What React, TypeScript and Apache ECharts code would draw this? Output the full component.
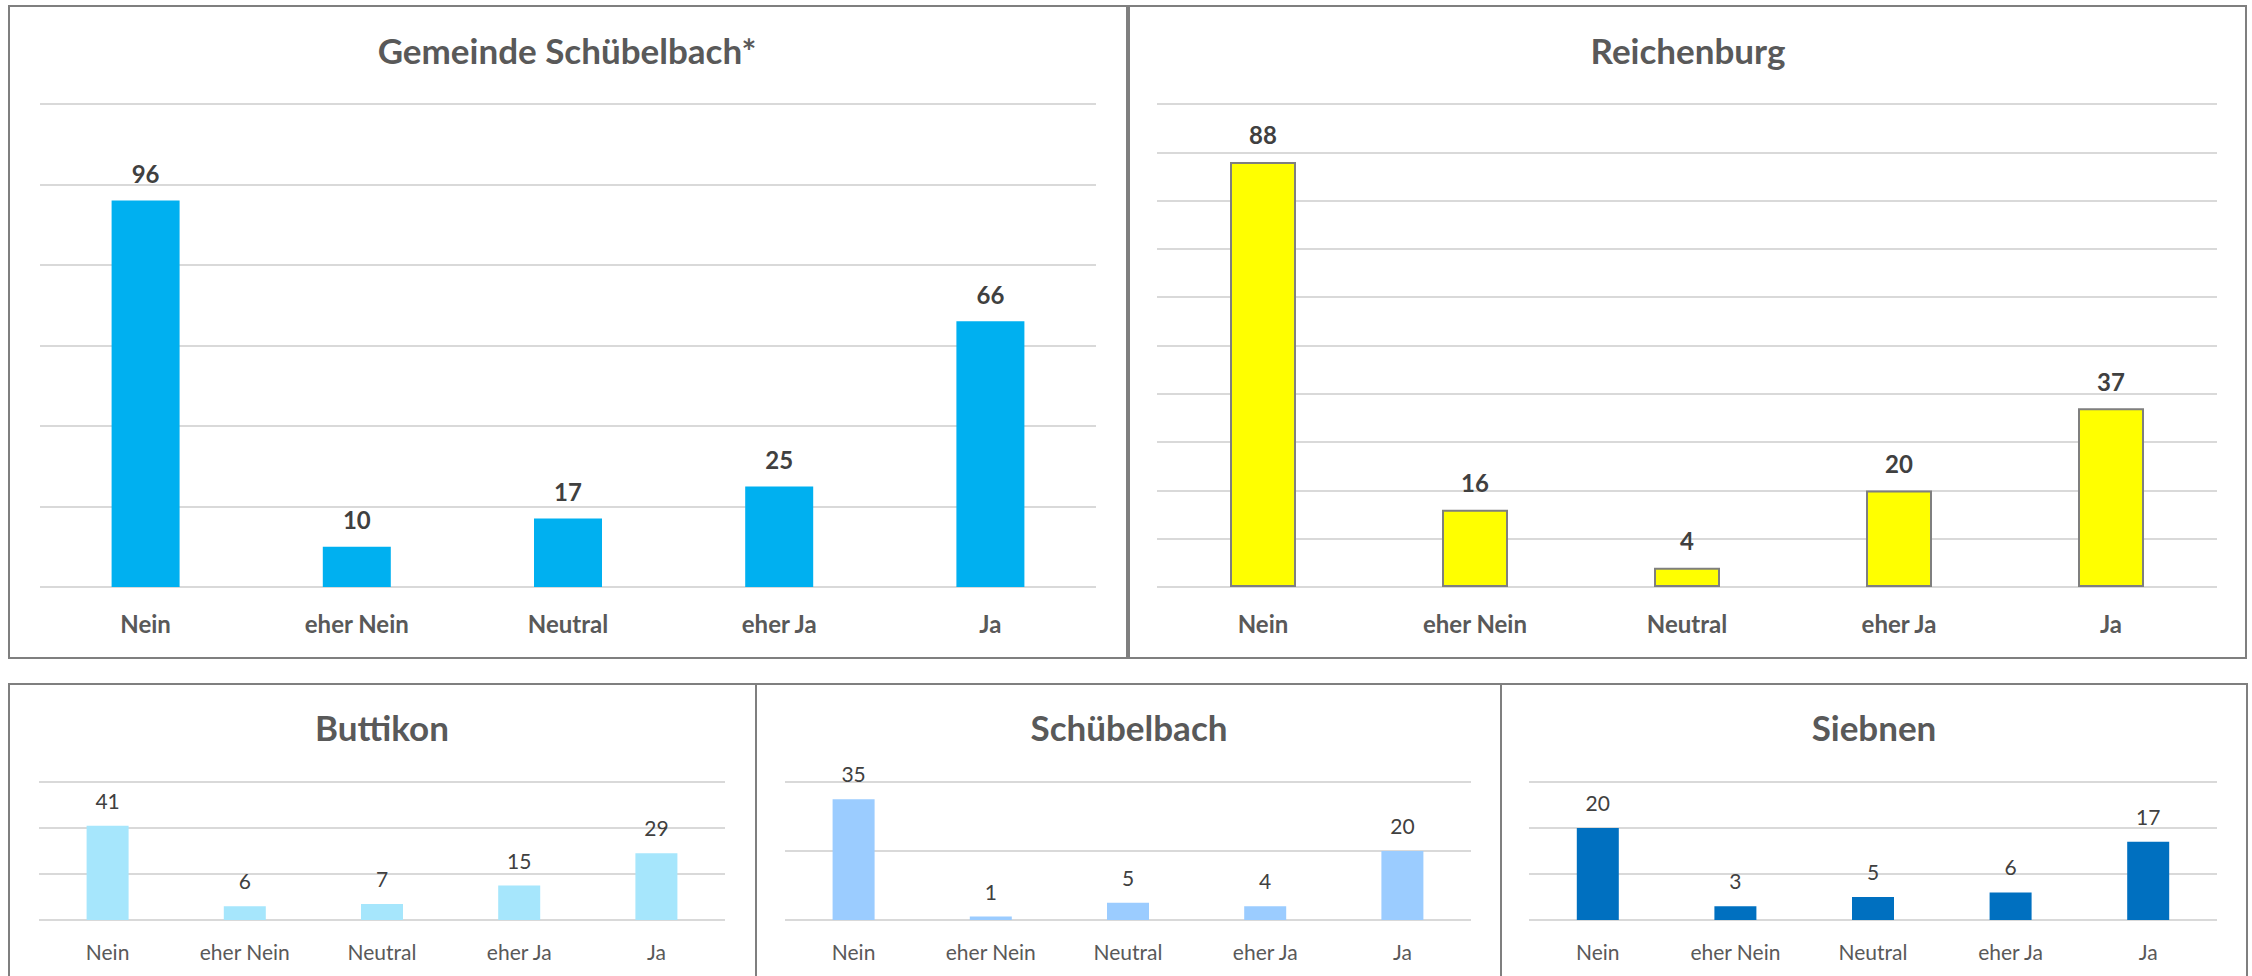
import React, { useEffect, useRef } from "react";
import * as echarts from "echarts";

const categories = ["Nein", "eher Nein", "Neutral", "eher Ja", "Ja"];
const gemeindeValues = [96, 10, 17, 25, 66];
const reichenburgValues = [88, 16, 4, 20, 37];
const buttikonValues = [41, 6, 7, 15, 29];
const schuebelbachValues = [35, 1, 5, 4, 20];
const siebnenValues = [20, 3, 5, 6, 17];

const titles = ["Gemeinde Schübelbach*", "Reichenburg", "Buttikon", "Schübelbach", "Siebnen"];
const axisMax = [120, 100, 60, 40, 30];
const axisInterval = [20, 10, 20, 20, 10];

const FONT = "Lato, 'Open Sans', sans-serif";

export default function App() {
  const ref = useRef<HTMLDivElement>(null);

  useEffect(() => {
    document.body.style.margin = "0";
    if (!ref.current) return;
    const chart = echarts.init(ref.current, undefined, { renderer: "svg" });

    const panels = [
      { grid: { left: 40, top: 104, width: 1056, height: 483 }, title: [567, 50], big: true, color: "#00B0F0", border: null, data: gemeindeValues, barWidth: 68 },
      { grid: { left: 1157, top: 104, width: 1060, height: 483 }, title: [1688, 50], big: true, color: "#FFFF00", border: "#7F7F7F", data: reichenburgValues, barWidth: 66 },
      { grid: { left: 39, top: 782, width: 686, height: 138 }, title: [382, 727], big: false, color: "#A6E6FC", border: null, data: buttikonValues, barWidth: 42 },
      { grid: { left: 785, top: 782, width: 686, height: 138 }, title: [1129, 727], big: false, color: "#9BCCFF", border: null, data: schuebelbachValues, barWidth: 42 },
      { grid: { left: 1529, top: 782, width: 688, height: 138 }, title: [1874, 727], big: false, color: "#0070C0", border: null, data: siebnenValues, barWidth: 42 },
    ];

    const option: any = {
      animation: false,
      backgroundColor: "#FFFFFF",
      title: panels.map((p, i) => ({
        text: titles[i],
        left: p.title[0],
        top: p.title[1],
        textAlign: "center",
        textVerticalAlign: "middle",
        padding: 0,
        textStyle: { fontFamily: FONT, fontWeight: "bold", fontSize: 35, color: "#595959" },
      })),
      grid: panels.map((p) => ({ ...p.grid, containLabel: false })),
      xAxis: panels.map((p, i) => ({
        type: "category",
        gridIndex: i,
        data: categories,
        axisLine: { show: false },
        axisTick: { show: false },
        axisLabel: {
          fontFamily: FONT,
          fontSize: p.big ? 24 : 21,
          fontWeight: p.big ? "bold" : "normal",
          color: "#595959",
          margin: p.big ? 24 : 21,
          interval: 0,
        },
      })),
      yAxis: panels.map((p, i) => ({
        type: "value",
        gridIndex: i,
        min: 0,
        max: axisMax[i],
        interval: axisInterval[i],
        axisLabel: { show: false },
        axisLine: { show: false },
        axisTick: { show: false },
        splitLine: { show: true, lineStyle: { color: "#D9D9D9", width: 2 } },
      })),
      series: panels.map((p, i) => ({
        type: "bar",
        xAxisIndex: i,
        yAxisIndex: i,
        data: p.data,
        barWidth: p.barWidth,
        itemStyle: p.border
          ? { color: p.color, borderColor: p.border, borderWidth: 2 }
          : { color: p.color },
        label: {
          show: true,
          position: "top",
          distance: 15,
          fontFamily: FONT,
          fontSize: p.big ? 24 : 21,
          fontWeight: p.big ? "bold" : "normal",
          color: "#404040",
        },
      })),
      graphic: [
        { type: "rect", shape: { x: 9, y: 6, width: 1118, height: 652 }, style: { fill: "none", stroke: "#7F7F7F", lineWidth: 2 }, silent: true },
        { type: "rect", shape: { x: 1129, y: 6, width: 1117, height: 652 }, style: { fill: "none", stroke: "#7F7F7F", lineWidth: 2 }, silent: true },
        { type: "rect", shape: { x: 9, y: 684, width: 747, height: 320 }, style: { fill: "none", stroke: "#7F7F7F", lineWidth: 2 }, silent: true },
        { type: "rect", shape: { x: 756, y: 684, width: 745, height: 320 }, style: { fill: "none", stroke: "#7F7F7F", lineWidth: 2 }, silent: true },
        { type: "rect", shape: { x: 1501, y: 684, width: 746, height: 320 }, style: { fill: "none", stroke: "#7F7F7F", lineWidth: 2 }, silent: true },
      ],
    };

    chart.setOption(option);
    return () => chart.dispose();
  }, []);

  return <div ref={ref} style={{ width: 2252, height: 976 }} />;
}
